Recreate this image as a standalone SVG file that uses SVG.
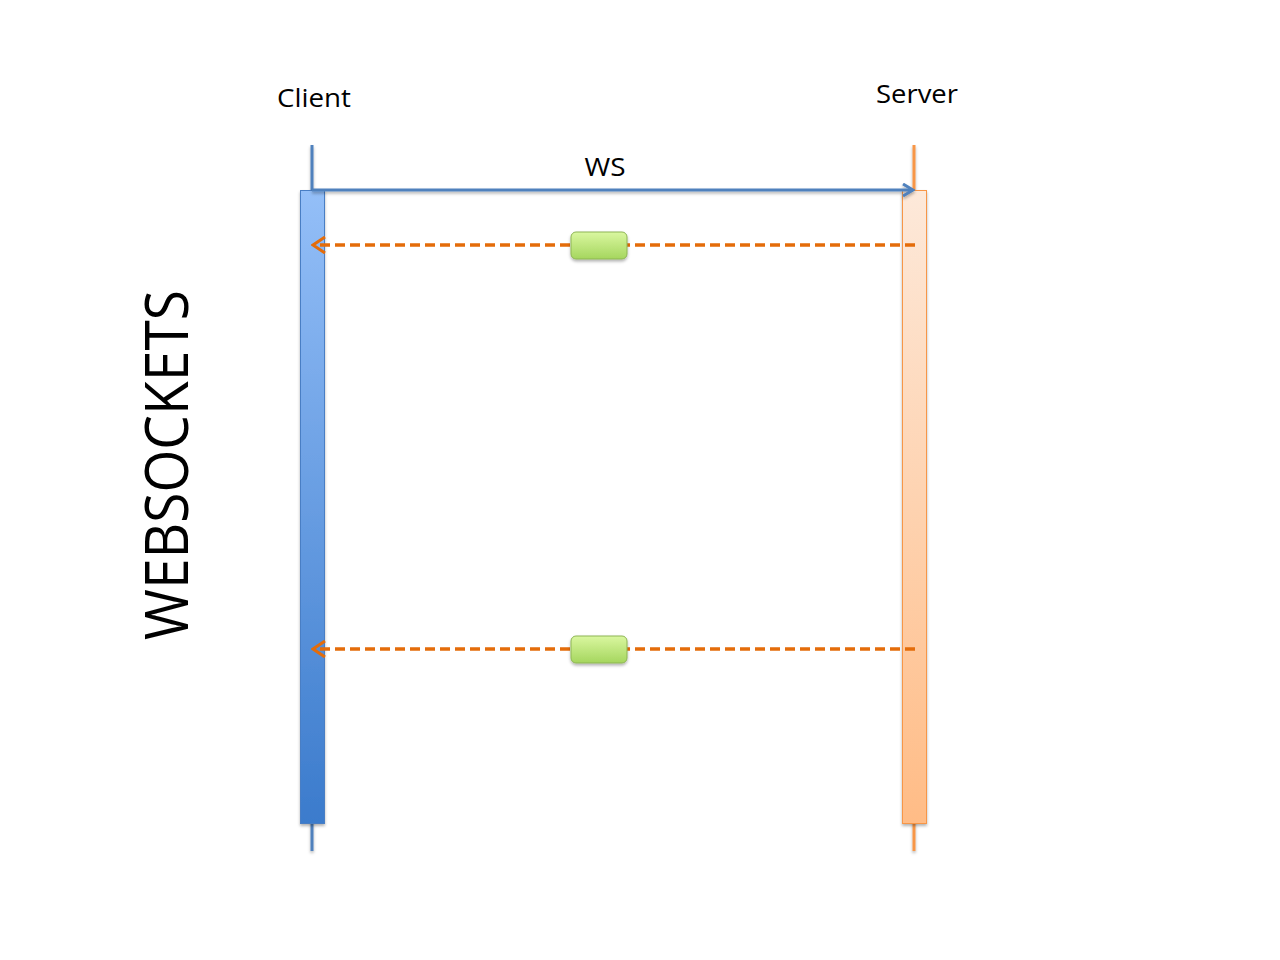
<svg xmlns="http://www.w3.org/2000/svg" width="1280" height="960" viewBox="0 0 1280 960">
<style>
.lbl{font-family:"Open Sans","Liberation Sans",sans-serif;fill:#000}
.dash{stroke:#E46C0A;stroke-width:3.5;stroke-dasharray:10 5;fill:none}
</style>
<defs>
<linearGradient id="gc" x1="0" y1="0" x2="0" y2="1"><stop offset="0" stop-color="#94BFF8"/><stop offset="1" stop-color="#3B7BCC"/></linearGradient>
<linearGradient id="gs" x1="0" y1="0" x2="0" y2="1"><stop offset="0" stop-color="#FDE9DA"/><stop offset="1" stop-color="#FFBC86"/></linearGradient>
<linearGradient id="gm" x1="0" y1="0" x2="0" y2="1"><stop offset="0" stop-color="#DAF7A0"/><stop offset="1" stop-color="#A5D65E"/></linearGradient>
<filter id="sh" filterUnits="userSpaceOnUse" x="0" y="0" width="1280" height="960"><feDropShadow dx="0" dy="2" stdDeviation="1.5" flood-color="#000" flood-opacity="0.3"/></filter>
<marker id="ab" markerWidth="14" markerHeight="14" refX="12" refY="7" orient="auto" markerUnits="userSpaceOnUse"><path d="M2,1 L12,7 L2,13" fill="none" stroke="#4F81BD" stroke-width="3"/></marker>
<marker id="ao" markerWidth="16" markerHeight="18" refX="14" refY="9" orient="auto" markerUnits="userSpaceOnUse"><path d="M2,1 L14,9 L2,17" fill="none" stroke="#E46C0A" stroke-width="3"/></marker>
</defs>
<rect width="1280" height="960" fill="#fff"/>
<text class="lbl" x="166" y="465" font-size="60" text-anchor="middle" textLength="350" lengthAdjust="spacingAndGlyphs" transform="rotate(-90 166 465)" dy="22">WEBSOCKETS</text>
<g id="client">
<line x1="312" y1="145" x2="312" y2="851" stroke="#4F81BD" stroke-width="3" filter="url(#sh)"/>
<rect x="300.5" y="190.5" width="24" height="633" fill="url(#gc)" stroke="#4A7EC4" stroke-width="1" filter="url(#sh)"/>
<text class="lbl" x="314" y="107" font-size="26" text-anchor="middle" textLength="74" lengthAdjust="spacingAndGlyphs">Client</text>
</g>
<g id="server">
<line x1="914" y1="145" x2="914" y2="851" stroke="#F79646" stroke-width="3" filter="url(#sh)"/>
<rect x="902.5" y="190.5" width="24" height="633" fill="url(#gs)" stroke="#F79646" stroke-width="1" filter="url(#sh)"/>
<text class="lbl" x="917" y="103" font-size="26" text-anchor="middle" textLength="82" lengthAdjust="spacingAndGlyphs">Server</text>
</g>
<g id="connectors">
<line x1="312" y1="190" x2="913" y2="190" stroke="#4F81BD" stroke-width="3" marker-end="url(#ab)" filter="url(#sh)"/>
<text class="lbl" x="605" y="176" font-size="26" text-anchor="middle" textLength="41" lengthAdjust="spacingAndGlyphs">WS</text>
<line class="dash" x1="915" y1="245" x2="313" y2="245" marker-end="url(#ao)"/>
<line class="dash" x1="915" y1="649" x2="313" y2="649" marker-end="url(#ao)"/>
</g>
<g id="msg1"><rect x="571" y="232" width="56" height="27" rx="5" fill="url(#gm)" stroke="#8DB554" stroke-width="1" filter="url(#sh)"/></g>
<g id="msg2"><rect x="571" y="636" width="56" height="27" rx="5" fill="url(#gm)" stroke="#8DB554" stroke-width="1" filter="url(#sh)"/></g>
</svg>
